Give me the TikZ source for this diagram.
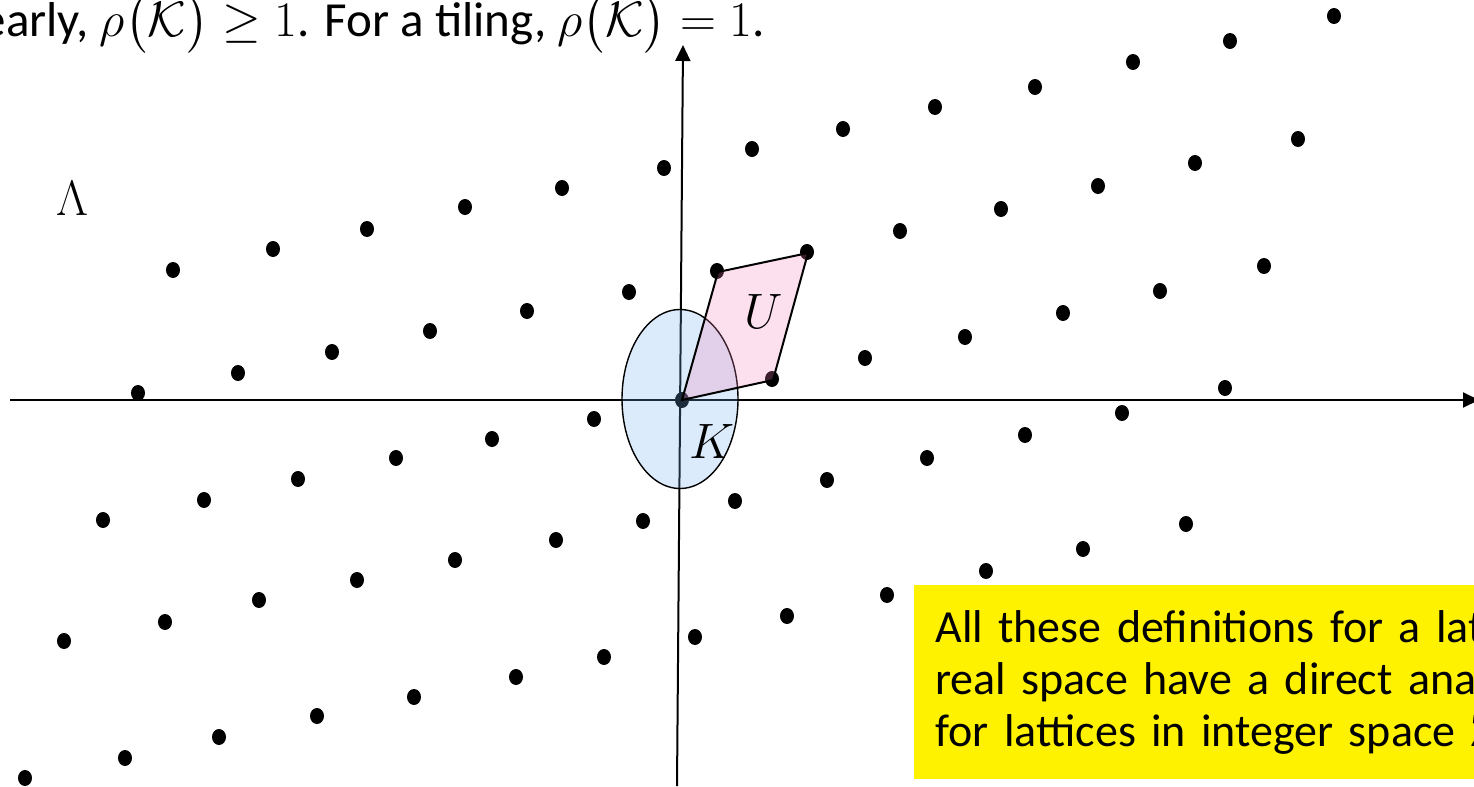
\documentclass[tikz,border=0pt]{standalone}
\usepackage{amsmath}
\usepackage{amssymb}
\usepackage{fontspec}
\setmainfont{Carlito}
\usetikzlibrary{arrows.meta}

\definecolor{kblue}{RGB}{115,176,242}
\definecolor{upink}{RGB}{245,130,185}

\begin{document}
\begin{tikzpicture}[
  x=0.5pt, y=-0.5pt, >={Triangle[length=8pt,width=7.5pt]},
  axis/.style={->, line width=1pt},
  region/.style={fill opacity=0.25, draw=black},
  lbl/.style={font=\fontsize{23.5}{28}\selectfont, inner sep=0pt},
  ybox/.style={fill=yellow, anchor=north west, text width=400pt, minimum height=97pt, inner xsep=10.5pt, align=left, font=\fontsize{23}{26}\selectfont},
]
  \useasboundingbox (0,0) rectangle (1474,787);
  % axes
  \coordinate (xl) at (10,400);
  \coordinate (xr) at (1479,400);
  \coordinate (yb) at (677,786);
  \coordinate (yt) at (683,45);
  \draw[axis] (xl) -- (xr);
  \draw[axis] (yb) -- (yt);
  % lattice points, one row at a time
  \foreach \px/\py in {1334/16,1230/41,1133/62,1035/87,935/107,843/129,752/149,664/168,562/188,465/207,367/229,273/249,173/270,
    1298/139,1195/163,1098/186,1001/209,900/231,807/252,717/271,629/292,527/311,430/331,332/352,238/373,138/393,
    1264/266,1160/291,1063/313,965/337,865/358,772/379,682/400,594/419,492/439,396/458,298/479,204/500,103/520,
    1225/388,1122/413,1025/435,927/458,827/480,735/501,643/521,556/540,455/560,357/580,259/600,165/622,64/641,
    1186/524,1083/549,986/571,887/595,787/616,695/637,604/657,516/677,414/697,317/716,219/737,125/758,25/778}
    \fill (\px,\py) ellipse [x radius=7, y radius=8];
  % body K and cell U
  \coordinate (o) at (682,400);
  \coordinate (a) at (773,380);
  \coordinate (ab) at (808,253);
  \coordinate (b) at (718,272);
  \filldraw[region, fill=kblue, line width=0.7pt] (680,399) ellipse [x radius=58, y radius=89.5];
  \filldraw[region, fill=upink, line width=1pt] (o) -- (a) -- (ab) -- (b) -- cycle;
  \node[lbl] (U) at (764,311) {$U$};
  \node[lbl] (K) at (712,441) {$K$};
  \node[lbl] (L) at (72,198) {$\Lambda$};
  % text
  \node[anchor=base west, inner sep=0pt, font=\fontsize{24.5}{29}\selectfont] (claim) at (-56,36)
       {Clearly, $\rho\bigl(\mathcal{K}\bigr)\geq 1$. For a tiling, $\rho\bigl(\mathcal{K}\bigr)=1$.};
  \node[ybox] (note) at (914,585) {All these definitions for a lattice in\\ real space have a direct analogue\\ for lattices in integer space $\mathbb{Z}^n$.};
\end{tikzpicture}
\end{document}
